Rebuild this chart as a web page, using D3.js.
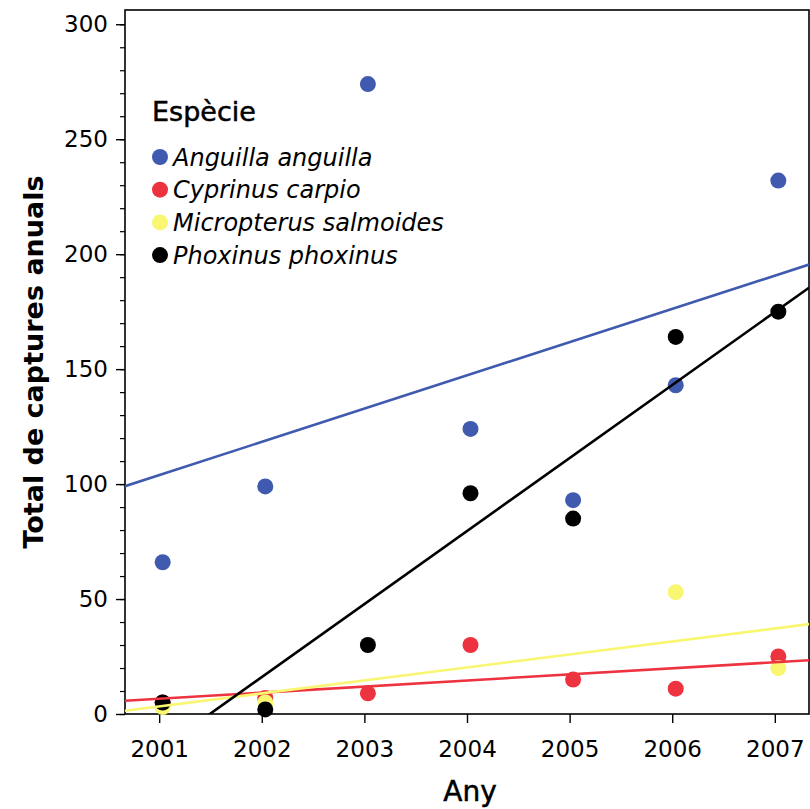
<!DOCTYPE html>
<html>
<head>
<meta charset="utf-8">
<script src="https://cdn.jsdelivr.net/npm/d3@7.9.0/dist/d3.min.js"></script>
<style>
  body { margin: 0; background: #fff; }
  text { font-family: "DejaVu Sans", Verdana, sans-serif; }
</style>
</head>
<body>
<div id="chart"></div>
<script>
const years = [2001, 2002, 2003, 2004, 2005, 2006, 2007];
const species = ['Anguilla anguilla', 'Cyprinus carpio', 'Micropterus salmoides', 'Phoxinus phoxinus'];
const colors = ['#3F5AAE', '#EE3340', '#F9F672', '#000000'];

// annual captures per species (null = no record)
const anguilla = [66, 99, 274, 124, 93, 143, 232];
const cyprinus = [5, 7, 9, 30, 15, 11, 25];
const micropterus = [3, 5, null, null, null, 53, 20];
const phoxinus = [5, 2, 30, 96, 85, 164, 175];

const yTicks = [0, 50, 100, 150, 200, 250, 300];

const width = 810, height = 809;
const margin = { top: 10, right: 1, bottom: 95, left: 125 };

const svg = d3.select('#chart').append('svg')
  .attr('width', width)
  .attr('height', height);

const x = d3.scaleLinear()
  .domain([2000.667, 2007.333])
  .range([margin.left, width - margin.right]);

const y = d3.scaleLinear()
  .domain([0, 306.2])
  .range([height - margin.bottom, margin.top]);

const series = [anguilla, cyprinus, micropterus, phoxinus].map((vals, i) => ({
  name: species[i],
  color: colors[i],
  points: years.map((yr, j) => ({ year: yr, value: vals[j] })).filter(d => d.value != null)
}));

// least squares fit for each species
function fit(points) {
  const mx = d3.mean(points, d => d.year), my = d3.mean(points, d => d.value);
  const sxy = d3.sum(points, d => (d.year - mx) * (d.value - my));
  const sxx = d3.sum(points, d => (d.year - mx) ** 2);
  const b = sxy / sxx;
  return yr => my + b * (yr - mx);
}

svg.append('defs').append('clipPath').attr('id', 'panel')
  .append('rect')
  .attr('x', margin.left).attr('y', margin.top)
  .attr('width', width - margin.right - margin.left)
  .attr('height', height - margin.bottom - margin.top);

// y axis with minor ticks
svg.append('g')
  .attr('transform', `translate(${margin.left},0)`)
  .call(d3.axisLeft(y).tickValues(d3.range(0, 301, 10)).tickSize(5).tickFormat(''))
  .call(g => g.select('.domain').remove())
  .selectAll('line').attr('stroke', '#000').attr('stroke-width', 1.2);

svg.append('g')
  .attr('transform', `translate(${margin.left},0)`)
  .call(d3.axisLeft(y).tickValues(yTicks).tickSize(9).tickPadding(8))
  .call(g => g.select('.domain').remove())
  .call(g => g.selectAll('line').attr('stroke', '#000').attr('stroke-width', 1.4))
  .call(g => g.selectAll('text').attr('font-size', 23).attr('fill', '#000')
    .attr('font-family', '"DejaVu Sans", Verdana, sans-serif'));

svg.append('g')
  .attr('transform', `translate(0,${height - margin.bottom})`)
  .call(d3.axisBottom(x).tickValues(years).tickFormat(d3.format('d')).tickSize(9).tickPadding(18))
  .call(g => g.select('.domain').remove())
  .call(g => g.selectAll('line').attr('stroke', '#000').attr('stroke-width', 1.4))
  .call(g => g.selectAll('text').attr('font-size', 23).attr('fill', '#000')
    .attr('font-family', '"DejaVu Sans", Verdana, sans-serif'));

// panel frame
svg.append('rect')
  .attr('x', margin.left).attr('y', margin.top)
  .attr('width', width - margin.right - margin.left)
  .attr('height', height - margin.bottom - margin.top)
  .attr('fill', 'none').attr('stroke', '#000').attr('stroke-width', 1.6);

// points
const nudge = 3.5;
series.forEach(s => {
  svg.append('g').selectAll('circle')
    .data(s.points)
    .enter().append('circle')
    .attr('cx', d => x(d.year) + nudge)
    .attr('cy', d => y(d.value))
    .attr('r', 8)
    .attr('fill', s.color);
});

// regression lines
series.forEach(s => {
  const f = fit(s.points);
  const dom = x.domain();
  svg.append('path')
    .datum(dom.map(yr => ({ year: yr, value: f(yr) })))
    .attr('clip-path', 'url(#panel)')
    .attr('fill', 'none')
    .attr('stroke', s.color)
    .attr('stroke-width', 2.6)
    .attr('d', d3.line().x(d => x(d.year)).y(d => y(d.value)));
});

// legend
svg.append('text')
  .attr('x', 152).attr('y', 121)
  .attr('font-size', 27)
  .attr('stroke', '#000').attr('stroke-width', 0.5)
  .text('Espècie');

series.forEach((s, i) => {
  const yPos = 157 + i * 32.7;
  svg.append('circle').attr('cx', 160).attr('cy', yPos).attr('r', 8).attr('fill', s.color);
  svg.append('text')
    .attr('x', 173).attr('y', yPos + 8.5)
    .attr('font-size', 24)
    .attr('font-style', 'italic')
    .text(s.name);
});

// axis titles
svg.append('text')
  .attr('x', 470).attr('y', 801)
  .attr('text-anchor', 'middle')
  .attr('font-size', 28)
  .attr('stroke', '#000').attr('stroke-width', 0.5)
  .text('Any');

svg.append('text')
  .attr('transform', `translate(43,${362}) rotate(-90)`)
  .attr('text-anchor', 'middle')
  .attr('font-size', 27)
  .attr('font-family', '"Open Sans", sans-serif')
  .attr('font-weight', 600)
  .text('Total de captures anuals');
</script>
</body>
</html>
